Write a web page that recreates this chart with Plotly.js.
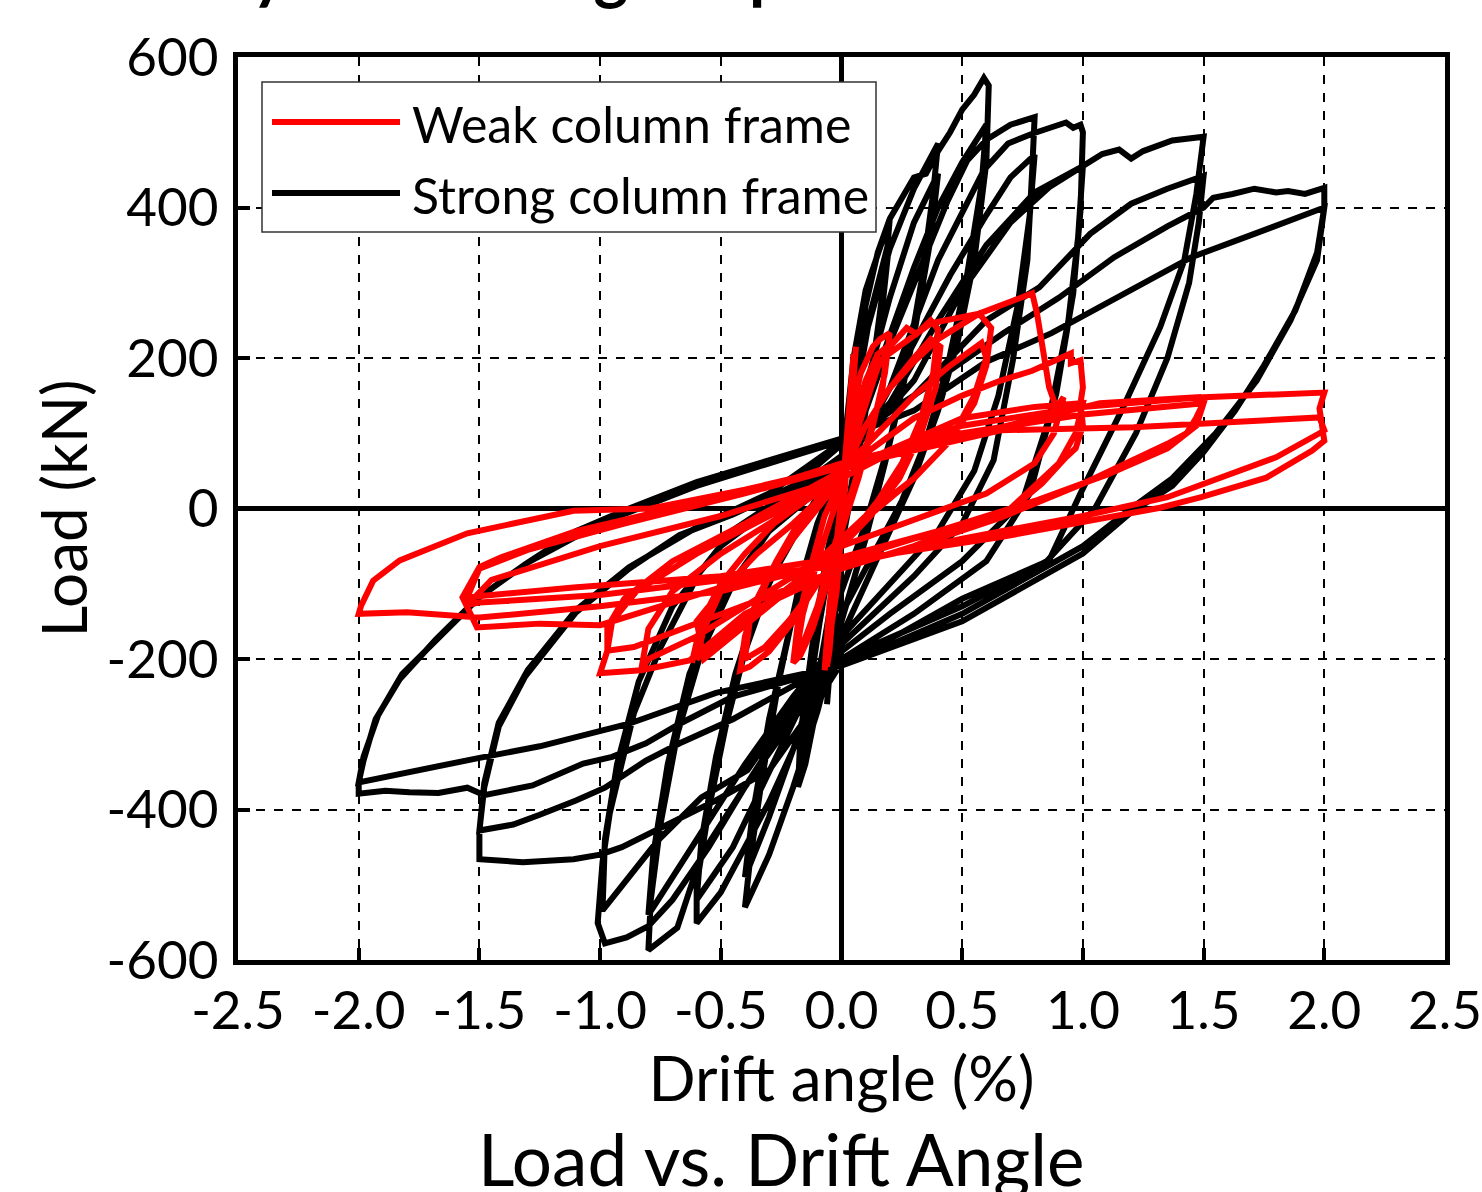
<!DOCTYPE html>
<html>
<head>
<meta charset="utf-8">
<script src="https://cdn.plot.ly/plotly-3.0.1.min.js"></script>
<style>
html,body{margin:0;padding:0;background:#fff;}
#chart{width:1482px;height:1192px;}
</style>
</head>
<body>
<div id="chart"></div>
<script>
// ---- Data (drift %, load kN) ----
const seriesNames = ["Weak column frame", "Strong column frame"];
const xTickVals = [-2.5,-2.0,-1.5,-1.0,-0.5,0.0,0.5,1.0,1.5,2.0,2.5];
const yTickVals = [-600,-400,-200,0,200,400,600];

const strongCycle1 = [[0,0],[0.02,90],[0.04,170],[0.05,205],[0.04,150],[0.02,60],[0,-10],[-0.02,-100],[-0.04,-180],[-0.05,-230],[-0.04,-170],[-0.02,-80],[0,10],[0.03,120],[0.05,190],[0.06,215],[0.04,140],[0.01,30],[-0.02,-80],[-0.05,-210],[-0.06,-260],[-0.04,-180],[-0.01,-60],[0,20]];
const strongCycle2 = [[0.05,160],[0.1,270],[0.15,340],[0.2,385],[0.18,310],[0.13,190],[0.07,70],[0,-50],[-0.05,-160],[-0.1,-260],[-0.15,-340],[-0.18,-370],[-0.17,-300],[-0.12,-180],[-0.06,-60],[0,30],[0.06,150],[0.12,260],[0.2,360],[0.17,270],[0.1,140],[0.03,10],[-0.03,-100],[-0.1,-230],[-0.17,-360],[-0.15,-280],[-0.09,-150],[-0.03,-40],[0,30]];
const strongCycle3 = [[0.05,140],[0.1,230],[0.2,345],[0.3,425],[0.35,455],[0.4,485],[0.38,420],[0.33,300],[0.26,170],[0.18,60],[0.1,-40],[0,-150],[-0.1,-270],[-0.2,-370],[-0.3,-460],[-0.4,-530],[-0.38,-470],[-0.33,-360],[-0.26,-230],[-0.18,-110],[-0.1,-20],[0,60],[0.1,160],[0.2,280],[0.3,380],[0.4,445],[0.37,360],[0.3,230],[0.2,90],[0.1,-20],[0,-110],[-0.1,-220],[-0.2,-320],[-0.3,-410],[-0.4,-490],[-0.37,-410],[-0.3,-280],[-0.2,-140],[-0.1,-30],[0,50]];
const strongCycle4 = [[0.05,200],[0.1,290],[0.2,385],[0.3,440],[0.35,445],[0.4,475],[0.45,500],[0.5,530],[0.55,550],[0.59,572],[0.61,562],[0.6,460],[0.55,330],[0.48,220],[0.4,130],[0.3,40],[0.2,-30],[0.1,-100],[0,-170],[-0.1,-250],[-0.2,-320],[-0.3,-390],[-0.4,-450],[-0.5,-510],[-0.6,-551],[-0.6,-500],[-0.55,-400],[-0.48,-290],[-0.4,-190],[-0.3,-100],[-0.2,-35],[-0.1,15],[0,60],[0.1,140],[0.2,230],[0.3,320],[0.4,400],[0.5,460],[0.6,510],[0.58,430],[0.52,310],[0.44,190],[0.35,90],[0.25,10],[0.1,-80],[0,-140],[-0.15,-250],[-0.3,-350],[-0.45,-450],[-0.6,-520],[-0.58,-440],[-0.52,-330],[-0.44,-220],[-0.34,-120],[-0.2,-40],[0,50]];
const strongCycle5 = [[0.1,130],[0.2,220],[0.35,340],[0.44,409],[0.52,462],[0.6,490],[0.7,510],[0.75,515],[0.8,520],[0.79,450],[0.77,330],[0.71,197],[0.63,64],[0.5,-20],[0.3,-90],[0,-180],[-0.2,-270],[-0.4,-370],[-0.58,-460],[-0.68,-557],[-0.8,-587],[-0.79,-520],[-0.75,-420],[-0.68,-300],[-0.58,-190],[-0.45,-100],[-0.3,-30],[-0.15,20],[0,60],[0.15,130],[0.3,220],[0.45,310],[0.6,390],[0.7,440],[0.8,470],[0.78,390],[0.73,270],[0.65,150],[0.55,50],[0.4,-30],[0.2,-100],[0,-170],[-0.2,-250],[-0.4,-340],[-0.6,-440],[-0.8,-540],[-0.78,-460],[-0.72,-340],[-0.63,-220],[-0.5,-120],[-0.3,-30],[0,50]];
const strongCycle6 = [[0.2,160],[0.4,330],[0.59,450],[0.69,485],[0.79,498],[0.89,509],[0.93,513],[0.96,506],[0.99,510],[1.0,500],[0.99,396],[0.96,286],[0.89,153],[0.78,20],[0.6,-70],[0.3,-140],[0,-200],[-0.2,-280],[-0.4,-370],[-0.55,-450],[-0.7,-520],[-0.8,-555],[-0.89,-570],[-0.98,-578],[-1.01,-551],[-0.99,-470],[-0.96,-405],[-0.86,-272],[-0.75,-185],[-0.59,-86],[-0.45,-29],[-0.31,1],[-0.15,35],[0,70],[0.2,140],[0.4,250],[0.6,350],[0.8,420],[1.0,455],[0.98,360],[0.94,250],[0.86,120],[0.75,10],[0.5,-70],[0.2,-140],[0,-190],[-0.2,-260],[-0.39,-348],[-0.58,-384],[-0.76,-441],[-0.99,-534],[-0.98,-440],[-0.93,-340],[-0.84,-230],[-0.7,-130],[-0.5,-50],[-0.25,10],[0,60]];
const strongCycle7 = [[0.3,170],[0.5,290],[0.7,380],[0.86,427],[0.99,453],[1.08,471],[1.15,477],[1.2,465],[1.25,475],[1.37,489],[1.5,494],[1.47,418],[1.42,330],[1.32,241],[1.16,130],[0.99,20],[0.86,-69],[0.5,-120],[0.25,-165],[0,-205],[-0.15,-280],[-0.3,-348],[-0.52,-388],[-0.74,-424],[-0.91,-450],[-1.0,-460],[-1.11,-466],[-1.32,-470],[-1.5,-466],[-1.5,-428],[-1.48,-371],[-1.42,-290],[-1.31,-223],[-1.1,-138],[-0.88,-80],[-0.67,-35],[-0.45,-8],[-0.2,30],[0,85],[0.3,150],[0.6,250],[0.82,294],[1.03,365],[1.2,405],[1.35,425],[1.5,442],[1.48,380],[1.44,300],[1.35,200],[1.22,100],[1.05,0],[0.85,-70],[0.5,-130],[0,-200],[-0.45,-280],[-0.67,-312],[-0.81,-335],[-0.98,-371],[-1.1,-388],[-1.25,-407],[-1.36,-420],[-1.5,-428],[-1.48,-365],[-1.42,-285],[-1.3,-215],[-1.1,-135],[-0.88,-78],[-0.6,-25],[-0.3,20],[0,88]];
const strongCycle8 = [[0.3,150],[0.67,233],[0.9,280],[1.13,334],[1.35,375],[1.5,400],[1.54,413],[1.62,418],[1.71,425],[1.8,420],[1.85,422],[1.92,418],[2.0,426],[2.0,400],[1.97,340],[1.88,263],[1.75,190],[1.63,130],[1.5,75],[1.37,30],[1.2,-5],[1.0,-60],[0.5,-150],[0,-209],[-0.45,-250],[-0.67,-286],[-0.81,-312],[-0.95,-330],[-1.07,-339],[-1.28,-368],[-1.48,-381],[-1.55,-371],[-1.67,-378],[-1.79,-377],[-1.89,-375],[-2.0,-379],[-2.0,-364],[-1.98,-335],[-1.93,-280],[-1.83,-227],[-1.68,-174],[-1.51,-120],[-1.31,-74],[-1.1,-30],[-0.88,0],[-0.6,35],[-0.3,65],[0,93],[0.3,130],[0.6,195],[0.87,233],[1.2,290],[1.45,334],[1.71,365],[1.97,396],[2.0,400],[1.97,330],[1.86,250],[1.72,170],[1.55,100],[1.37,40],[1.2,0],[1.0,-50],[0.5,-140],[0,-209],[-0.52,-245],[-0.88,-286],[-1.25,-316],[-1.51,-332],[-1.92,-359],[-2.0,-364],[-1.98,-330],[-1.92,-275],[-1.82,-220],[-1.66,-168],[-1.5,-118],[-1.3,-72],[-1.0,-20],[-0.6,30],[-0.3,60],[0,90]];

const weakCycle1 = [[0,0],[0.02,80],[0.04,160],[0.05,205],[0.03,120],[0.01,30],[-0.01,-50],[-0.03,-130],[-0.05,-190],[-0.06,-210],[-0.04,-140],[-0.02,-60],[0,0],[0.02,80],[0.04,160],[0.06,215],[0.04,130],[0.02,40],[0,-30],[-0.02,-110],[-0.05,-180],[-0.07,-215],[-0.05,-130],[-0.02,-40],[0,20]];
const weakCycle2 = [[0.04,130],[0.08,180],[0.13,215],[0.16,225],[0.2,233],[0.18,180],[0.13,110],[0.07,40],[0,-30],[-0.06,-100],[-0.12,-160],[-0.17,-195],[-0.2,-205],[-0.18,-150],[-0.13,-80],[-0.07,-10],[0,40],[0.05,120],[0.1,170],[0.15,205],[0.19,215],[0.17,160],[0.1,80],[0.03,10],[-0.04,-60],[-0.1,-130],[-0.16,-180],[-0.19,-198],[-0.16,-140],[-0.1,-70],[-0.04,-10],[0,30]];
const weakCycle3 = [[0.06,120],[0.12,170],[0.2,215],[0.27,240],[0.31,232],[0.34,242],[0.37,250],[0.4,238],[0.38,180],[0.33,120],[0.25,60],[0.15,10],[0.05,-30],[0,-50],[-0.1,-100],[-0.2,-150],[-0.3,-190],[-0.38,-210],[-0.42,-215],[-0.4,-170],[-0.35,-120],[-0.27,-70],[-0.18,-20],[-0.08,20],[0,50],[0.1,110],[0.2,160],[0.3,200],[0.37,225],[0.41,215],[0.39,160],[0.33,100],[0.24,40],[0.12,-10],[0,-50],[-0.1,-100],[-0.22,-150],[-0.32,-185],[-0.4,-200],[-0.38,-150],[-0.3,-90],[-0.2,-40],[-0.1,0],[0,40]];
const weakCycle4 = [[0.1,110],[0.2,160],[0.3,195],[0.4,225],[0.5,245],[0.57,259],[0.62,240],[0.6,190],[0.55,140],[0.45,90],[0.3,40],[0.15,0],[0,-40],[-0.15,-90],[-0.3,-130],[-0.45,-170],[-0.57,-200],[-0.6,-150],[-0.55,-130],[-0.62,-205],[-0.58,-150],[-0.5,-100],[-0.4,-60],[-0.28,-20],[-0.15,10],[0,50],[0.15,100],[0.3,150],[0.45,190],[0.58,220],[0.6,200],[0.55,150],[0.45,90],[0.3,40],[0.1,-10],[0,-40],[-0.2,-100],[-0.4,-150],[-0.6,-200],[-0.57,-160],[-0.5,-110],[-0.35,-60],[-0.2,-20],[0,40]];
const weakCycle5 = [[0.16,197],[0.37,246],[0.57,259],[0.71,276],[0.79,286],[0.81,259],[0.86,161],[0.89,134],[0.92,148],[0.88,100],[0.8,60],[0.6,20],[0.3,-15],[0,-50],[-0.3,-110],[-0.6,-170],[-0.8,-200],[-0.83,-215],[-0.8,-160],[-0.7,-110],[-0.5,-60],[-0.3,-20],[-0.1,20],[0,50]];
const weakCycle6 = [[0.3,120],[0.5,150],[0.66,170],[0.79,183],[0.9,200],[0.95,206],[0.95,193],[0.99,197],[1.0,161],[0.99,140],[1.0,110],[0.97,80],[0.93,68],[0.83,33],[0.66,-12],[0.4,-40],[0,-80],[-0.4,-140],[-0.63,-202],[-0.83,-215],[-1.0,-219],[-0.97,-189],[-0.97,-158],[-0.9,-120],[-0.7,-70],[-0.4,-20],[0,50],[0.5,120],[0.8,135],[1.0,140],[0.97,100],[0.9,60],[0.7,0],[0.3,-50],[0,-80],[-0.5,-140],[-0.86,-184],[-0.97,-189],[-0.95,-150],[-0.85,-110],[-0.6,-60],[-0.3,-10],[0,40]];
const weakCycle7 = [[0.3,90],[0.66,108],[1.07,140],[1.48,148],[1.49,134],[1.47,121],[1.43,100],[1.35,86],[1.21,64],[1.0,33],[0.66,-12],[0.3,-40],[0,-70],[-0.5,-105],[-1.0,-155],[-1.25,-153],[-1.51,-158],[-1.57,-118],[-1.5,-78],[-1.41,-65],[-1.1,-30],[-0.7,0],[-0.3,30],[0,60],[0.5,100],[1.0,125],[1.5,140],[1.47,110],[1.35,80],[1.1,45],[0.8,10],[0.4,-30],[0,-65],[-0.5,-90],[-1.11,-105],[-1.55,-118],[-1.5,-80],[-1.3,-55],[-0.9,-20],[-0.4,20],[0,55]];
const weakCycle8 = [[0.5,110],[1.0,135],[1.5,148],[1.9,153],[2.0,154],[1.98,133],[2.0,90],[1.95,77],[1.76,41],[1.49,15],[1.32,1],[0.66,-38],[0,-70],[-0.5,-110],[-1.0,-130],[-1.5,-145],[-1.8,-138],[-2.0,-140],[-1.99,-129],[-1.94,-96],[-1.83,-69],[-1.55,-33],[-1.11,-3],[-0.79,0],[-0.4,25],[0,55],[0.66,104],[1.21,108],[1.48,113],[1.98,121],[2.0,104],[1.98,100],[1.8,68],[1.62,46],[1.35,15],[1.0,-10],[0.5,-40],[0,-75],[-0.5,-95],[-1.0,-115],[-1.5,-125],[-1.55,-128],[-1.45,-95],[-1.0,-50],[-0.5,-10],[0,40]];

// ---- Build traces ----
const strongPts = [].concat(strongCycle1,strongCycle2,strongCycle3,strongCycle4,strongCycle5,strongCycle6,strongCycle7,strongCycle8);
const weakPts = [].concat(weakCycle1,weakCycle2,weakCycle3,weakCycle4,weakCycle5,weakCycle6,weakCycle7,weakCycle8);

const FONT = 'Lato, "Noto Sans", "DejaVu Sans", sans-serif';

const traces = [
  {x: strongPts.map(p=>p[0]), y: strongPts.map(p=>p[1]), type:'scatter', mode:'lines', name: seriesNames[1],
   line:{color:'#000000', width:6}, showlegend:false, hoverinfo:'skip'},
  {x: weakPts.map(p=>p[0]), y: weakPts.map(p=>p[1]), type:'scatter', mode:'lines', name: seriesNames[0],
   line:{color:'#ff0000', width:6}, showlegend:false, hoverinfo:'skip'}
];

// plot area in pixels: x 238..1445, y 57..960
const L=238, R=1445, T=57, B=960;
const px = v => (v - L)/(R - L);
const py = v => (B - v)/(B - T);

const axisCommon = {
  showline:true, linecolor:'#000', linewidth:5, mirror:true,
  ticks:'inside', ticklen:12, tickwidth:4, tickcolor:'#000',
  showgrid:true, gridcolor:'#000', gridwidth:2, griddash:'dash',
  zeroline:true, zerolinecolor:'#000', zerolinewidth:5,
  tickfont:{family:FONT, size:53, color:'#000'},
  fixedrange:true
};

const layout = {
  width:1482, height:1192,
  margin:{l:L, r:1482-R, t:T, b:1192-B, pad:0},
  paper_bgcolor:'#fff', plot_bgcolor:'#fff',
  showlegend:false,
  xaxis: Object.assign({}, axisCommon, {
    range:[-2.5,2.5], tickvals:xTickVals, ticktext:xTickVals.map(v=>v.toFixed(1)),
    title:{text:'Drift angle (%)', font:{family:FONT, size:62, color:'#000'}, standoff:14}
  }),
  yaxis: Object.assign({}, axisCommon, {
    range:[-600,600], tickvals:yTickVals, ticktext:yTickVals.map(v=>String(v)),
    ticklabelstandoff:4,
    title:{text:'Load (kN)', font:{family:FONT, size:62, color:'#000'}, standoff:0}
  }),
  shapes:[
    {type:'rect', xref:'paper', yref:'paper', x0:px(262), x1:px(876), y0:py(232), y1:py(82),
     line:{color:'#333', width:1.5}, fillcolor:'#fff', layer:'above'},
    {type:'line', xref:'paper', yref:'paper', x0:px(272), x1:px(400), y0:py(122), y1:py(122),
     line:{color:'#ff0000', width:6}, layer:'above'},
    {type:'line', xref:'paper', yref:'paper', x0:px(272), x1:px(400), y0:py(193), y1:py(193),
     line:{color:'#000000', width:6}, layer:'above'}
  ],
  annotations:[
    {xref:'paper', yref:'paper', x:px(410), y:py(124), xanchor:'left', yanchor:'middle', showarrow:false,
     text:seriesNames[0], font:{family:FONT, size:50, color:'#000'}},
    {xref:'paper', yref:'paper', x:px(410), y:py(195), xanchor:'left', yanchor:'middle', showarrow:false,
     text:seriesNames[1], font:{family:FONT, size:50, color:'#000'}},
    {xref:'paper', yref:'paper', x:px(781), y:py(1158), xanchor:'center', yanchor:'middle', showarrow:false,
     text:'Load vs. Drift Angle', font:{family:FONT, size:71, color:'#000'}},
    {xref:'paper', yref:'paper', x:px(207), y:py(-29), xanchor:'left', yanchor:'middle', showarrow:false,
     text:'<b>Cyclic Loading Response</b>', font:{family:FONT, size:66, color:'#000'}}
  ]
};

Plotly.newPlot('chart', traces, layout, {staticPlot:true, displayModeBar:false});
</script>
</body>
</html>
